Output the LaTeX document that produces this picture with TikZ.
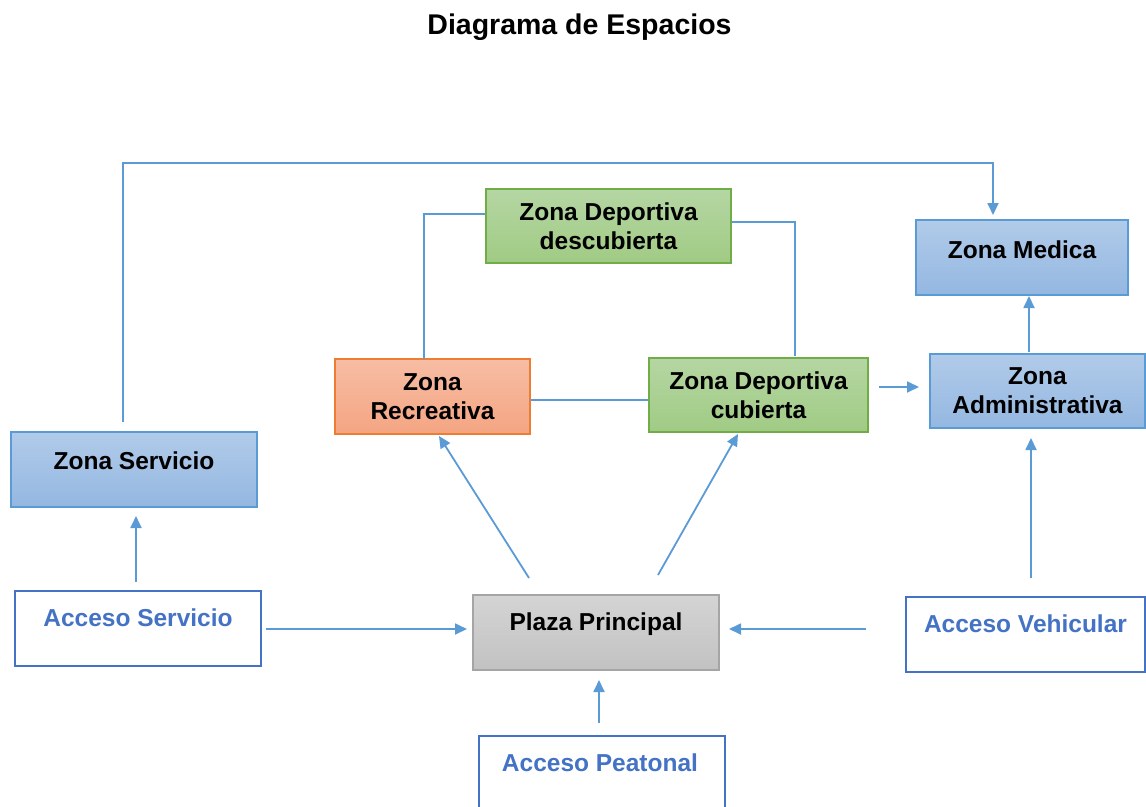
\documentclass[tikz,border=0pt]{standalone}
\usepackage{fontspec}
\setmainfont{Liberation Sans}
\usetikzlibrary{arrows.meta}
\definecolor{lineblue}{HTML}{5B9BD5}
\definecolor{accblue}{HTML}{4472C4}
\definecolor{bluetop}{HTML}{B1CBE9}
\definecolor{bluebot}{HTML}{94B7E1}
\definecolor{greenbd}{HTML}{70AD47}
\definecolor{greentop}{HTML}{B5D6A3}
\definecolor{greenbot}{HTML}{A0CB84}
\definecolor{orangebd}{HTML}{ED7D31}
\definecolor{orangetop}{HTML}{F7BDA4}
\definecolor{orangebot}{HTML}{F4A582}
\definecolor{graybd}{HTML}{A5A5A5}
\definecolor{graytop}{HTML}{D4D4D4}
\definecolor{graybot}{HTML}{C2C2C2}
\tikzset{
  boxbase/.style={rectangle, line width=1.6pt, inner sep=0pt},
  bluebox/.style={boxbase, draw=lineblue, top color=bluetop, bottom color=bluebot},
  greenbox/.style={boxbase, draw=greenbd, top color=greentop, bottom color=greenbot},
  orangebox/.style={boxbase, draw=orangebd, top color=orangetop, bottom color=orangebot},
  graybox/.style={boxbase, draw=graybd, top color=graytop, bottom color=graybot},
  accbox/.style={boxbase, draw=accblue, fill=white},
  txt/.style={font=\fontsize{24.5}{29}\selectfont\bfseries, align=center, inner sep=0pt, text=black},
  acctxt/.style={txt, text=accblue},
  conn/.style={draw=lineblue, line width=1.8pt},
  arr/.style={conn, -{Triangle[length=12pt,width=11pt]}},
}
\begin{document}
\begin{tikzpicture}[x=1pt,y=-1pt]
\useasboundingbox (0,0) rectangle (1146,806);
% title
\node[font=\fontsize{28.5}{34}\selectfont\bfseries, inner sep=0pt] (title) at (579.5,27) {Diagrama de Espacios};
% boxes
\node[greenbox, minimum width=245pt, minimum height=74pt] (desc) at (608.5,226) {};
\node[txt] (descT) at (desc.center) {Zona Deportiva\\descubierta};
\node[bluebox, minimum width=212pt, minimum height=75pt] (med) at (1022,257.5) {};
\node[txt] (medT) at ([yshift=7.5pt]med.center) {Zona Medica};
\node[orangebox, minimum width=195pt, minimum height=75pt] (rec) at (432.5,396.5) {};
\node[txt] (recT) at (rec.center) {Zona\\Recreativa};
\node[greenbox, minimum width=219pt, minimum height=74pt] (cub) at (758.5,395) {};
\node[txt] (cubT) at (cub.center) {Zona Deportiva\\cubierta};
\node[bluebox, minimum width=215pt, minimum height=74pt] (adm) at (1037.5,391) {};
\node[txt] (admT) at (adm.center) {Zona\\Administrativa};
\node[bluebox, minimum width=246pt, minimum height=75pt] (serv) at (134,469.5) {};
\node[txt] (servT) at ([yshift=8.5pt]serv.center) {Zona Servicio};
\node[accbox, minimum width=246pt, minimum height=75pt] (aserv) at (138,628.5) {};
\node[acctxt] (aservT) at ([yshift=10.5pt]aserv.center) {Acceso Servicio};
\node[graybox, minimum width=246pt, minimum height=75pt] (plaza) at (596,632.5) {};
\node[txt] (plazaT) at ([yshift=8.5pt]plaza.center) {Plaza Principal};
\node[accbox, minimum width=239pt, minimum height=75pt] (aveh) at (1025.5,634.5) {};
\node[acctxt] (avehT) at ([yshift=10.5pt]aveh.center) {Acceso Vehicular};
\node[accbox, minimum width=246pt, minimum height=100pt] (apea) at (602,786) {};
\node[acctxt] (apeaT) at (600,763) {Acceso Peatonal};
% connector end points
\coordinate (c1) at (123,422);
\coordinate (c2) at (993,215);
\coordinate (d1) at (424,359);
\coordinate (d2) at (795,356);
\coordinate (e1) at (879,387);
\coordinate (e2) at (919,387);
\coordinate (f1) at (1029,352);
\coordinate (f2) at (1029,296);
\coordinate (g1) at (1031,578);
\coordinate (g2) at (1031,438);
\coordinate (h1) at (136,582);
\coordinate (h2) at (136,516);
\coordinate (i1) at (266,629);
\coordinate (i2) at (467,629);
\coordinate (j1) at (866,629);
\coordinate (j2) at (729,629);
\coordinate (k1) at (599,723);
\coordinate (k2) at (599,680);
\coordinate (l1) at (529,578);
\coordinate (l2) at (439,436);
\coordinate (m1) at (658,575);
\coordinate (m2) at (738,434);
% connectors
\draw[arr] (c1) -- (123,163) -- (993,163) -- (c2);
\draw[conn] (d1) -- (424,214) -- (desc.west |- 0,214);
\draw[conn] (desc.east |- 0,222) -- (795,222) -- (d2);
\draw[conn] (rec.east |- 0,400) -- (cub.west |- 0,400);
\draw[arr] (e1) -- (e2);
\draw[arr] (f1) -- (f2);
\draw[arr] (g1) -- (g2);
\draw[arr] (h1) -- (h2);
\draw[arr] (i1) -- (i2);
\draw[arr] (j1) -- (j2);
\draw[arr] (k1) -- (k2);
\draw[arr] (l1) -- (l2);
\draw[arr] (m1) -- (m2);
\end{tikzpicture}
\end{document}
